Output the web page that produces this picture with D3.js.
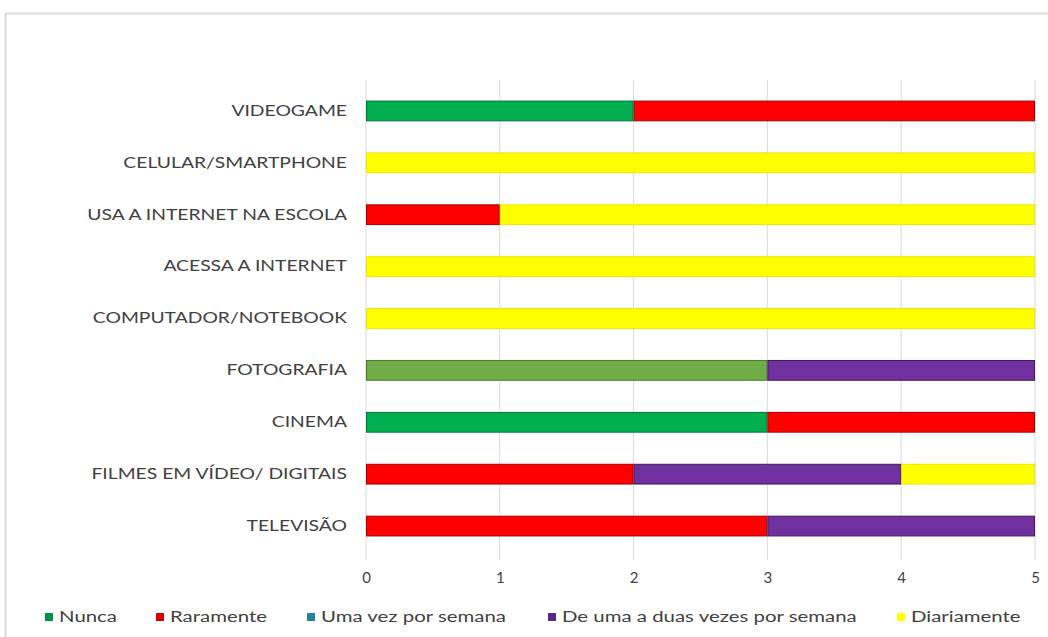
<!DOCTYPE html>
<html>
<head>
<meta charset="utf-8">
<script src="https://cdn.jsdelivr.net/npm/d3@7"></script>
<style>
  body { margin: 0; background: #fff; }
  text { font-family: Lato, "DejaVu Sans Condensed", sans-serif; fill: #404040; }
</style>
</head>
<body>
<div id="chart"></div>
<script>
// categories, top to bottom
const categories = ["VIDEOGAME", "CELULAR/SMARTPHONE", "USA A INTERNET NA ESCOLA", "ACESSA A INTERNET",
    "COMPUTADOR/NOTEBOOK", "FOTOGRAFIA", "CINEMA", "FILMES EM VÍDEO/ DIGITAIS", "TELEVISÃO"];
const seriesNames = ["Nunca", "Raramente", "Uma vez por semana", "De uma a duas vezes por semana", "Diariamente"];
const nunca       = [2, 0, 0, 0, 0, 3, 3, 0, 0];
const raramente   = [3, 0, 1, 0, 0, 0, 2, 2, 3];
const umaVez      = [0, 0, 0, 0, 0, 0, 0, 0, 0];
const deUmaADuas  = [0, 0, 0, 0, 0, 2, 0, 2, 2];
const diariamente = [0, 5, 4, 5, 5, 0, 0, 1, 0];
const xTicks = [0, 1, 2, 3, 4, 5];

const colors = ["#00B050", "#FF0000", "#2E9BB5", "#7030A0", "#FFFF00"];
const strokes = ["#00703a", "#a00000", "#1d6a7c", "#3e1a5c", "#e8e800"];
// FOTOGRAFIA "Nunca" bar was recoloured in the original
const overrides = {"FOTOGRAFIA|Nunca": ["#70AD47", "#4a7a2c"]};

const W = 1048, H = 637;
const margin = {top: 80, right: 13, bottom: 77, left: 366};
const width = W - margin.left - margin.right,
    height = H - margin.top - margin.bottom;

const rows = categories.map((c, i) => ({
    cat: c, Nunca: nunca[i], Raramente: raramente[i], "Uma vez por semana": umaVez[i],
    "De uma a duas vezes por semana": deUmaADuas[i], Diariamente: diariamente[i]
}));
const stacked = d3.stack().keys(seriesNames)(rows);

const svg = d3.select("#chart").append("svg")
    .attr("width", W)
    .attr("height", H);

// the picture is stretched sideways, so text gets a horizontal scale
function stretchFor(str, size, target) {
    const t = svg.append("text").attr("font-size", size).text(str);
    const len = t.node().getComputedTextLength();
    t.remove();
    return target / len;
}

// outer frame (only top + left visible in the crop)
svg.append("rect")
    .attr("x", 5.5).attr("y", 13.5)
    .attr("width", W + 20).attr("height", H + 20)
    .attr("fill", "none").attr("stroke", "#d9d9d9").attr("stroke-width", 2);

const g = svg.append("g")
    .attr("transform", "translate(" + margin.left + "," + margin.top + ")");

const x = d3.scaleLinear().domain([0, 5]).range([0, width]);
const y = d3.scaleBand().domain(categories).range([5, 472]).paddingInner(0.6).paddingOuter(0.3);

// gridlines
g.append("g")
    .selectAll("line")
    .data(xTicks)
    .enter().append("line")
    .attr("x1", d => x(d)).attr("x2", d => x(d))
    .attr("y1", 0).attr("y2", height)
    .attr("stroke", "#d9d9d9").attr("stroke-width", 1);

stacked.forEach((s, si) => {
    g.append("g")
        .selectAll("rect")
        .data(s.filter(d => d[1] - d[0] > 0))
        .enter().append("rect")
        .attr("x", d => x(d[0]) + 0.5)
        .attr("y", d => y(d.data.cat) + 0.5)
        .attr("width", d => x(d[1]) - x(d[0]) - 1)
        .attr("height", y.bandwidth() - 1)
        .attr("fill", d => (overrides[d.data.cat + "|" + s.key] || [colors[si]])[0])
        .attr("stroke", d => (overrides[d.data.cat + "|" + s.key] || [null, strokes[si]])[1])
        .attr("stroke-width", 1);
});

// category labels
const sx = stretchFor("USA A INTERNET NA ESCOLA", "15px", 260);
g.append("g")
    .call(d3.axisLeft(y).tickSize(0).tickPadding(0))
    .call(a => a.select(".domain").remove())
    .selectAll("text")
    .attr("font-size", "15px")
    .attr("font-family", null)
    .attr("x", -19 / sx)
    .attr("transform", "scale(" + sx + ",1)")
    .attr("fill", "#4a4a4a");

// x tick labels
g.append("g")
    .attr("transform", "translate(0," + height + ")")
    .call(d3.axisBottom(x).tickValues(xTicks).tickFormat(d3.format("d")).tickSize(0).tickPadding(12))
    .call(a => a.select(".domain").remove())
    .selectAll("text")
    .attr("font-size", "15px")
    .attr("font-family", null)
    .attr("fill", "#404040");

// legend
const lx = stretchFor("De uma a duas vezes por semana", "15px", 295);
const legendX = [45, 156, 307, 548, 897];
const legend = svg.append("g").attr("transform", "translate(0,617)");
seriesNames.forEach((n, i) => {
    legend.append("rect")
        .attr("x", legendX[i]).attr("y", -4)
        .attr("width", 8).attr("height", 8)
        .attr("fill", colors[i] === "#FFFF00" ? "#FFFF00" : d3.color(colors[i]).darker(0.5));
    legend.append("text")
        .attr("transform", "translate(" + (legendX[i] + 14) + ",0) scale(" + lx + ",1)")
        .attr("dy", "0.35em")
        .attr("font-size", "15px")
        .attr("fill", "#595959")
        .text(n);
});
</script>
</body>
</html>
